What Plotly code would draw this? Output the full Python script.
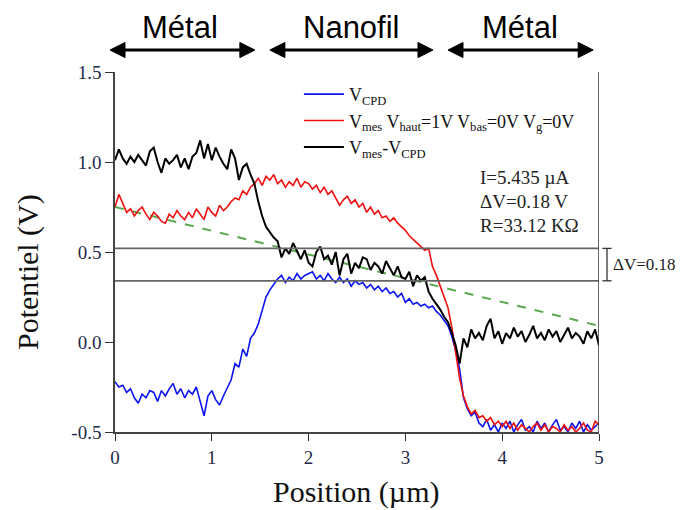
import plotly.graph_objects as go

# sampling grid of positions (µm), step 0.04
positions = [round(i * 0.04, 2) for i in range(126)]

v_cpd = [
    -0.22, -0.25, -0.24, -0.28, -0.26, -0.31, -0.34, -0.29, -0.31, -0.27, -0.28, -0.33, -0.27,
    -0.30, -0.26, -0.23, -0.29, -0.26, -0.31, -0.27, -0.29, -0.25, -0.33, -0.41, -0.30,
    -0.27, -0.32, -0.35, -0.30, -0.25, -0.21, -0.12, -0.14, -0.04, -0.08, 0.02, 0.05, 0.10,
    0.17, 0.25, 0.29, 0.32, 0.35, 0.37, 0.33, 0.36, 0.34, 0.38, 0.35, 0.37,
    0.38, 0.39, 0.35, 0.37, 0.34, 0.38, 0.35, 0.33, 0.36, 0.33, 0.35, 0.31, 0.34,
    0.32, 0.33, 0.30, 0.32, 0.29, 0.31, 0.28, 0.30, 0.27, 0.28, 0.25, 0.27,
    0.22, 0.24, 0.21, 0.22, 0.20, 0.21, 0.19, 0.20, 0.17, 0.15, 0.12, 0.09, 0.03,
    -0.05, -0.15, -0.31, -0.37, -0.41, -0.39, -0.45, -0.47, -0.43, -0.49, -0.46, -0.50,
    -0.45, -0.48, -0.44, -0.50, -0.46, -0.43, -0.49, -0.47, -0.50, -0.44, -0.48, -0.45, -0.50,
    -0.46, -0.43, -0.49, -0.47, -0.50, -0.45, -0.48, -0.44, -0.50, -0.46, -0.49, -0.47, -0.45,
]

v_mes = [
    0.75, 0.82, 0.77, 0.72, 0.74, 0.70, 0.73, 0.75, 0.71, 0.68, 0.72, 0.70, 0.67,
    0.66, 0.71, 0.69, 0.73, 0.70, 0.68, 0.72, 0.69, 0.74, 0.71, 0.68, 0.75,
    0.72, 0.70, 0.76, 0.73, 0.75, 0.78, 0.80, 0.79, 0.84, 0.82, 0.86, 0.88, 0.91,
    0.87, 0.92, 0.90, 0.93, 0.88, 0.90, 0.86, 0.89, 0.87, 0.91, 0.86, 0.89,
    0.88, 0.85, 0.87, 0.83, 0.86, 0.82, 0.84, 0.80, 0.76, 0.79, 0.81, 0.77, 0.79,
    0.75, 0.77, 0.72, 0.75, 0.71, 0.73, 0.69, 0.70, 0.67, 0.69, 0.66, 0.64,
    0.62, 0.59, 0.57, 0.55, 0.53, 0.51, 0.52, 0.42, 0.37, 0.31, 0.26, 0.19, 0.08,
    -0.05, -0.20, -0.30, -0.36, -0.40, -0.38, -0.42, -0.41, -0.44, -0.42, -0.46, -0.44,
    -0.47, -0.44, -0.48, -0.45, -0.49, -0.46, -0.48, -0.50, -0.47, -0.45, -0.49, -0.46, -0.50,
    -0.47, -0.48, -0.50, -0.46, -0.49, -0.47, -0.50, -0.48, -0.45, -0.49, -0.50, -0.44, -0.46,
]

v_diff = [
    1.01, 1.07, 1.02, 0.99, 1.03, 1.00, 1.04, 1.01, 0.98, 1.06, 1.08, 1.00, 0.94,
    1.02, 0.99, 1.01, 1.04, 0.97, 1.02, 0.96, 1.03, 1.05, 1.12, 1.02, 1.10,
    1.01, 1.08, 1.03, 0.99, 0.96, 1.07, 1.02, 0.90, 0.97, 0.99, 0.93, 0.88, 0.78,
    0.70, 0.64, 0.61, 0.58, 0.56, 0.47, 0.52, 0.49, 0.55, 0.50, 0.46, 0.51,
    0.44, 0.42, 0.50, 0.53, 0.46, 0.48, 0.43, 0.50, 0.37, 0.46, 0.49, 0.38, 0.44,
    0.41, 0.47, 0.46, 0.40, 0.44, 0.42, 0.38, 0.45, 0.41, 0.37, 0.42, 0.36,
    0.35, 0.39, 0.31, 0.37, 0.34, 0.36, 0.28, 0.24, 0.21, 0.18, 0.14, 0.11, 0.05,
    -0.02, -0.12, 0.02, -0.03, 0.07, 0.02, 0.05, 0.01, 0.09, 0.13, 0.02, 0.06,
    -0.01, 0.05, 0.02, 0.08, 0.03, 0.06, 0.00, 0.04, 0.09, 0.02, 0.05, 0.01, 0.07,
    0.03, 0.06, 0.00, 0.04, 0.08, 0.02, 0.05, 0.03, -0.01, 0.06, 0.02, 0.07, -0.02,
]

fit_x = [0, 5]
fit_y = [0.75, 0.09]

level_high = 0.52
level_low = 0.34

x_ticks = [0, 1, 2, 3, 4, 5]
y_ticks = [-0.5, 0.0, 0.5, 1.0, 1.5]
y_tick_labels = ["-0.5", "0.0", "0.5", "1.0", "1.5"]

regions = ["Métal", "Nanofil", "Métal"]

SERIF = "Liberation Serif, Times New Roman, serif"
SANS = "Liberation Sans, Arial, sans-serif"
TICK_COLOR = "#1f2a4a"

fig = go.Figure()

fig.add_trace(go.Scatter(x=fit_x, y=fit_y, mode="lines", showlegend=False,
                         line=dict(color="#5aa84e", width=2, dash="dash")))
fig.add_trace(go.Scatter(x=positions, y=v_cpd, mode="lines", name="V<sub>CPD</sub>",
                         line=dict(color="#0a14f0", width=1.6)))
fig.add_trace(go.Scatter(x=positions, y=v_mes, mode="lines",
                         name="V<sub>mes</sub> V<sub>haut</sub>=1V V<sub>bas</sub>=0V V<sub>g</sub>=0V",
                         line=dict(color="#f01010", width=1.6)))
fig.add_trace(go.Scatter(x=positions, y=v_diff, mode="lines", name="V<sub>mes</sub>-V<sub>CPD</sub>",
                         line=dict(color="black", width=2)))

# horizontal reference levels
for lv in (level_high, level_low):
    fig.add_shape(type="line", xref="x", yref="y", x0=0, x1=5, y0=lv, y1=lv,
                  line=dict(color="#666666", width=1.8))

# right border
fig.add_shape(type="line", xref="x", yref="y", x0=5, x1=5, y0=-0.5, y1=1.5,
              line=dict(color="#333333", width=1.5))

# bracket for ΔV
bx = 1.0165
fig.add_shape(type="line", xref="paper", yref="y", x0=bx, x1=bx, y0=level_low, y1=level_high,
              line=dict(color="#333333", width=1.3))
for lv in (level_high, level_low):
    fig.add_shape(type="line", xref="paper", yref="y", x0=bx - 0.0095, x1=bx + 0.0095, y0=lv, y1=lv,
                  line=dict(color="#333333", width=1.3))

# double-headed arrows above the plot (paper coordinates)
arrow_spans = [(-0.0103, 0.289), (0.320, 0.657), (0.688, 0.988)]
ay = 1.061
hl = 0.031   # head length
hh = 0.021   # head half-height
for a, b in arrow_spans:
    fig.add_shape(type="line", xref="paper", yref="paper", x0=a + hl * 0.8, x1=b - hl * 0.8,
                  y0=ay, y1=ay, line=dict(color="black", width=3))
    fig.add_shape(type="path", xref="paper", yref="paper",
                  path=f"M {a},{ay} L {a + hl},{ay + hh} L {a + hl},{ay - hh} Z",
                  fillcolor="black", line=dict(color="black", width=1))
    fig.add_shape(type="path", xref="paper", yref="paper",
                  path=f"M {b},{ay} L {b - hl},{ay + hh} L {b - hl},{ay - hh} Z",
                  fillcolor="black", line=dict(color="black", width=1))

annotations = [
    dict(text="ΔV=0.18", xref="paper", yref="y", x=bx + 0.009, y=(level_high + level_low) / 2,
         xanchor="left", yanchor="middle", showarrow=False, font=dict(family=SERIF, size=17, color="#222")),
    dict(text="I=5.435 µA", xref="paper", yref="paper", x=0.75, y=0.706, xanchor="left",
         yanchor="middle", showarrow=False, font=dict(family=SERIF, size=19, color="#222")),
    dict(text="ΔV=0.18 V", xref="paper", yref="paper", x=0.75, y=0.639, xanchor="left",
         yanchor="middle", showarrow=False, font=dict(family=SERIF, size=19, color="#222")),
    dict(text="R=33.12 KΩ", xref="paper", yref="paper", x=0.75, y=0.575, xanchor="left",
         yanchor="middle", showarrow=False, font=dict(family=SERIF, size=19, color="#222")),
    dict(text="Potentiel (V)", xref="paper", yref="paper", x=-0.18, y=0.444, textangle=-90,
         xanchor="center", yanchor="middle", showarrow=False, font=dict(family=SERIF, size=30, color="#111")),
    dict(text="Position (µm)", xref="paper", yref="paper", x=0.498, y=-0.166,
         xanchor="center", yanchor="middle", showarrow=False, font=dict(family=SERIF, size=30, color="#111")),
]

region_centers = [0.134, 0.488, 0.837]
for label, cx in zip(regions, region_centers):
    annotations.append(dict(text=label, xref="paper", yref="paper", x=cx, y=1.125,
                            xanchor="center", yanchor="middle", showarrow=False,
                            font=dict(family=SANS, size=31, color="black")))

fig.update_layout(
    width=683, height=510,
    margin=dict(l=107, r=92, t=64, b=86, autoexpand=False),
    paper_bgcolor="white", plot_bgcolor="white",
    annotations=annotations,
    legend=dict(x=0.38, y=0.989, xanchor="left", yanchor="top",
                bgcolor="rgba(0,0,0,0)", font=dict(family=SERIF, size=18, color="#111"),
                tracegroupgap=0, itemwidth=40),
    xaxis=dict(range=[0, 5], tickvals=x_ticks, ticktext=[str(v) for v in x_ticks],
               showgrid=False, zeroline=False, showline=True, linecolor="#444", linewidth=1.5,
               ticks="outside", ticklen=7, tickcolor="#333", tickwidth=1.3,
               tickfont=dict(family=SERIF, size=19, color=TICK_COLOR)),
    yaxis=dict(range=[-0.5, 1.5], tickvals=y_ticks, ticktext=y_tick_labels,
               showgrid=False, zeroline=False, showline=True, linecolor="#444", linewidth=1.5,
               ticks="outside", ticklen=8, tickcolor="#333", tickwidth=1.3,
               tickfont=dict(family=SERIF, size=19, color=TICK_COLOR)),
)

fig.write_html("out.html")
